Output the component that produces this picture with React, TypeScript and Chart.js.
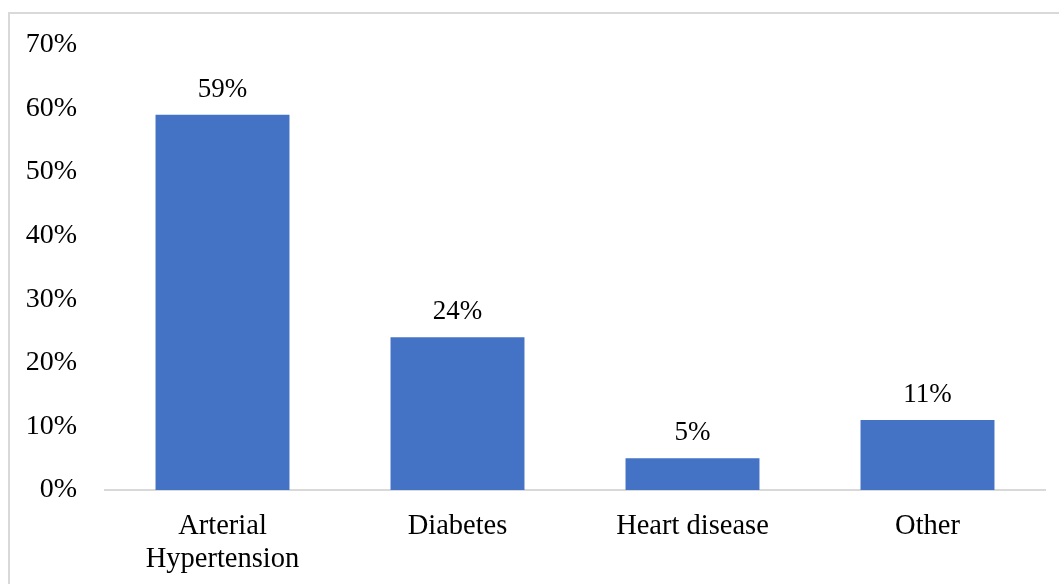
import React, { useEffect, useRef } from "react";
import { Chart, registerables } from "chart.js";

Chart.register(...registerables);

const categories: (string | string[])[] = [["Arterial", "Hypertension"], "Diabetes", "Heart disease", "Other"];
const values: number[] = [59, 24, 5, 11];
const yTicks: number[] = [0, 10, 20, 30, 40, 50, 60, 70];

const FONT = "'Liberation Serif', 'Times New Roman', serif";

const labelPlugin = {
  id: "barLabels",
  afterDatasetsDraw(chart: any) {
    const ctx = chart.ctx;
    const meta = chart.getDatasetMeta(0);
    ctx.save();
    ctx.font = `27px ${FONT}`;
    ctx.fillStyle = "#000";
    ctx.textAlign = "center";
    ctx.textBaseline = "alphabetic";
    meta.data.forEach((bar: any, i: number) => {
      ctx.fillText(`${values[i]}%`, bar.x, bar.y - 18);
    });
    ctx.restore();
  },
};

export default function App() {
  const ref = useRef<HTMLCanvasElement>(null);
  useEffect(() => {
    if (!ref.current) return;
    const chart = new Chart(ref.current, {
      type: "bar",
      data: {
        labels: categories,
        datasets: [
          {
            data: values,
            backgroundColor: "#4472C4",
            barPercentage: 0.57,
            categoryPercentage: 1,
          },
        ],
      },
      options: {
        animation: false,
        responsive: false,
        maintainAspectRatio: false,
        layout: { padding: { top: 44, right: 14, bottom: 0, left: 0 } },
        plugins: { legend: { display: false }, tooltip: { enabled: false } },
        scales: {
          x: {
            grid: { display: false, drawTicks: false },
            border: { display: true, color: "#d9d9d9", width: 2 },
            ticks: {
              color: "#000",
              font: { family: FONT, size: 28.5, lineHeight: 1.16 },
              padding: 20,
              maxRotation: 0,
              autoSkip: false,
            },
            afterFit: (s: any) => {
              s.height = 94;
            },
          },
          y: {
            min: 0,
            max: 70,
            afterBuildTicks: (s: any) => {
              s.ticks = yTicks.map((v) => ({ value: v }));
            },
            grid: { display: false, drawTicks: false },
            border: { display: false },
            ticks: {
              color: "#000",
              font: { family: FONT, size: 28 },
              padding: 28,
              callback: (v: any) => `${v}%`,
            },
            afterFit: (s: any) => {
              s.width = 105;
            },
          },
        },
      },
      plugins: [labelPlugin],
    });
    return () => chart.destroy();
  }, []);
  return (
    <div style={{ position: "fixed", left: 0, top: 0, width: 1059, height: 584, background: "#fff", overflow: "hidden" }}>
      <div
        style={{
          position: "absolute",
          left: 8,
          top: 12,
          width: 1100,
          height: 620,
          border: "2px solid #d9d9d9",
          boxSizing: "border-box",
        }}
      />
      <canvas ref={ref} width={1059} height={584} style={{ position: "absolute", left: 0, top: 0, width: 1059, height: 584 }} />
    </div>
  );
}
